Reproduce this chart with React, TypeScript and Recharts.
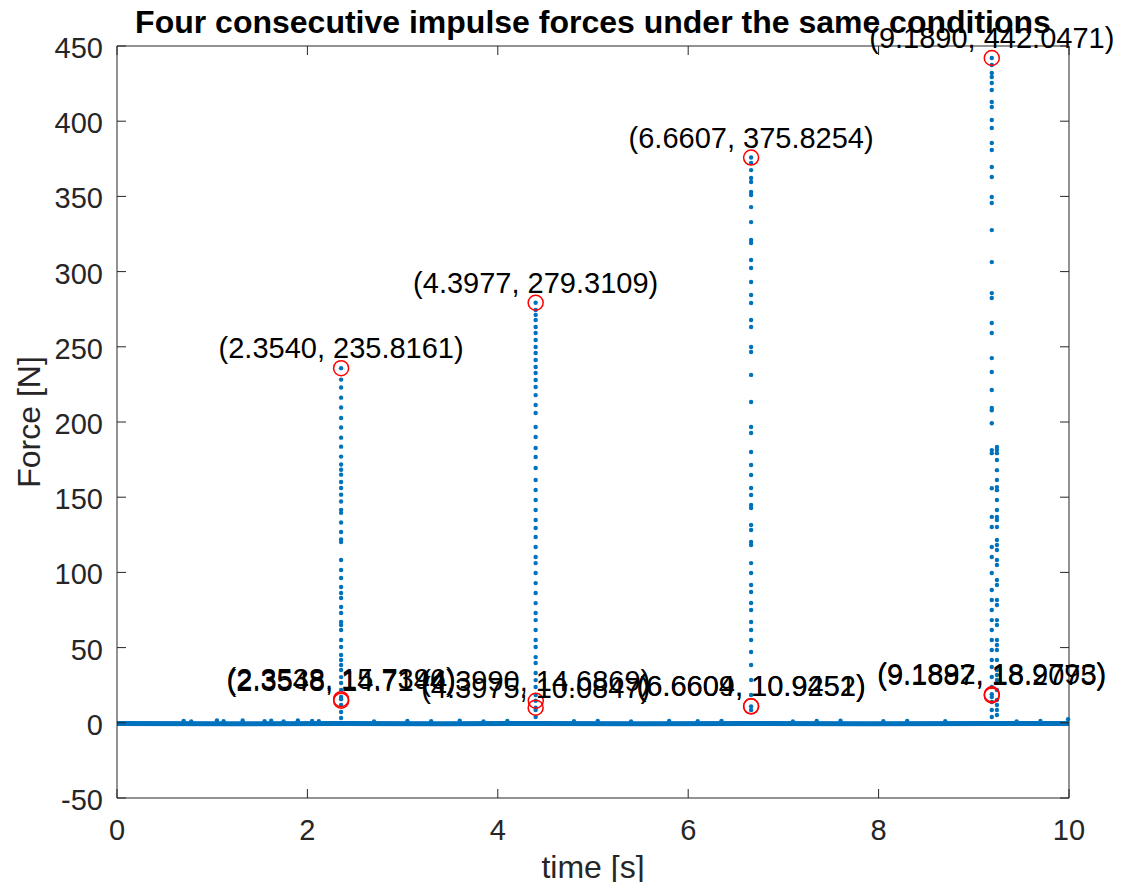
import {
  ComposedChart,
  Line,
  Scatter,
  XAxis,
  YAxis,
} from "recharts";

const BLUE = "#0072BD";
const AXIS = "#262626";
const FONT = "'Liberation Sans', Arial, Helvetica, sans-serif";

// plot box in page pixels
const W = 1121;
const H = 890;
const PLOT_LEFT = 117;
const PLOT_RIGHT = 1069;
const PLOT_TOP = 46;
const PLOT_BOTTOM = 798;

const xTicks = [0, 2, 4, 6, 8, 10];
const yTicks = [-50, 0, 50, 100, 150, 200, 250, 300, 350, 400, 450];

// flat signal between impacts
const baselineTime = [0, 1.2, 2.35, 3.4, 4.4, 5.5, 6.66, 7.9, 9.19, 10];
const baselineForce = [-0.4, -0.6, -0.5, -0.6, -0.5, -0.6, -0.5, -0.6, -0.5, -0.4];

// small bumps sitting on the baseline
const noiseTime = [0.7, 0.78, 1.05, 1.12, 1.32, 1.55, 1.62, 1.75, 1.9, 2.05, 2.12, 2.7, 3.05, 3.3, 3.6, 3.85, 4.1, 4.8, 5.05, 5.4, 5.8, 6.1, 6.35, 7.1, 7.35, 7.6, 8.05, 8.3, 8.7, 9.45, 9.7, 9.99];
const noiseForce = [1.3, 0.9, 1.5, 1.0, 1.6, 1.1, 1.4, 0.9, 1.5, 1.2, 1.0, 0.9, 1.3, 1.1, 1.4, 0.9, 1.2, 1.0, 1.3, 0.9, 1.2, 1.1, 1.3, 0.9, 1.2, 1.4, 1.0, 1.2, 1.1, 0.9, 1.2, 2.4];

// impulse columns
const spikeTimes = [2.354, 4.3977, 6.6607, 9.189, 9.243];
const spike1Force = [235.8161, 228.2, 222.9, 216.2, 209.6, 202.7, 196.3, 189.6, 183.6, 177.0, 171.7, 168.3, 165.0, 160.1, 156.1, 151.7, 147.1, 141.6, 139.6, 133.2, 126.9, 121.9, 120.2, 108.2, 101.6, 96.3, 90.3, 86.3, 83.0, 77.0, 73.0, 67.0, 65.0, 61.7, 55.1, 50.4, 45.1, 41.8, 38.4, 35.1, 30.4, 26.5, 21.8, 17.2, 15.7396, 11.8, 7.2, 3.2];
const spike2Force = [279.3109, 274.5, 271.2, 267.8, 263.2, 259.2, 254.5, 249.9, 245.9, 241.2, 236.6, 232.6, 227.9, 223.3, 217.9, 211.3, 206.0, 196.7, 190.0, 182.7, 176.7, 169.4, 161.4, 154.8, 148.1, 141.5, 134.8, 129.5, 123.5, 116.9, 110.2, 106.2, 99.6, 92.9, 86.3, 79.6, 73.0, 68.3, 61.7, 55.1, 50.4, 43.7, 39.8, 33.1, 28.4, 23.8, 18.5, 14.6869, 10.0847, 8.5, 3.9];
const spike3Force = [375.8254, 372.2, 367.5, 362.2, 359.6, 352.9, 350.9, 342.9, 332.9, 321.0, 319.0, 307.7, 302.4, 293.1, 284.4, 279.1, 267.8, 263.2, 249.9, 246.5, 231.3, 213.3, 196.7, 192.7, 180.1, 171.4, 164.8, 156.1, 151.5, 144.8, 142.8, 131.5, 128.2, 120.2, 118.2, 106.2, 99.6, 91.6, 87.0, 79.7, 75.0, 67.0, 61.7, 55.1, 47.1, 38.4, 28.5, 18.5, 10.9452, 8.5];
const spike4Force = [442.0471, 437.4, 432.0, 429.4, 425.4, 420.7, 412.8, 409.4, 400.8, 395.5, 385.5, 380.9, 369.5, 362.9, 349.6, 345.6, 327.6, 306.3, 285.7, 282.4, 265.8, 259.2, 242.5, 233.2, 221.3, 209.3, 207.8, 199.2, 181.3, 179.3, 156.0, 136.9, 130.2, 116.9, 110.2, 99.6, 88.3, 81.6, 75.0, 68.3, 61.7, 55.1, 48.4, 41.8, 37.1, 30.5, 23.8, 18.9793, 17.2, 13.8, 8.5, 3.9];
const spike5Force = [183.4, 181.4, 179.3, 174.7, 168.0, 161.4, 156.7, 154.7, 148.1, 141.5, 136.8, 134.8, 130.2, 121.5, 118.2, 114.9, 108.2, 104.9, 94.9, 91.6, 81.6, 78.3, 68.3, 65.0, 55.1, 51.7, 48.4, 41.8, 35.1, 31.8, 28.5, 21.8, 15.2, 11.8, 8.5, 5.2];

// data tips
const tipTime = [2.354, 2.3538, 2.3548, 4.3977, 4.399, 4.3975, 6.6607, 6.6604, 6.6609, 9.189, 9.1887, 9.1892];
const tipForce = [235.8161, 15.7396, 14.7144, 279.3109, 14.6869, 10.0847, 375.8254, 10.9452, 10.9251, 442.0471, 18.2075, 18.9793];

const baselineData = baselineTime.map((t, i) => ({ t, f: baselineForce[i] }));
const noiseData = noiseTime.map((t, i) => ({ t, f: noiseForce[i] }));
const spikeForces = [spike1Force, spike2Force, spike3Force, spike4Force, spike5Force];
const spikeData = spikeForces.flatMap((arr, i) =>
  arr.map((f) => ({ t: spikeTimes[i], f }))
);
const tipData = tipTime.map((t, i) => ({
  t,
  f: tipForce[i],
  label: `(${t.toFixed(4)}, ${tipForce[i].toFixed(4)})`,
}));

const LeftTick = (props: any) => {
  const { x, y, payload } = props;
  return (
    <g>
      <line x1={x} y1={y} x2={x + 9} y2={y} stroke={AXIS} />
      <text
        x={x - 14}
        y={y + 12}
        textAnchor="end"
        fontSize={29}
        fill={AXIS}
        fontFamily={FONT}
      >
        {payload.value}
      </text>
    </g>
  );
};

const BottomTick = (props: any) => {
  const { x, y, payload } = props;
  return (
    <g>
      <line x1={x} y1={y} x2={x} y2={y - 9} stroke={AXIS} />
      <text
        x={x}
        y={y + 42}
        textAnchor="middle"
        fontSize={29}
        fill={AXIS}
        fontFamily={FONT}
      >
        {payload.value}
      </text>
    </g>
  );
};

const RightTick = (props: any) => {
  const { x, y } = props;
  return <line x1={x} y1={y} x2={x - 9} y2={y} stroke={AXIS} />;
};

const TopTick = (props: any) => {
  const { x, y } = props;
  return <line x1={x} y1={y} x2={x} y2={y + 9} stroke={AXIS} />;
};

const Dot = (props: any) => (
  <circle cx={props.cx} cy={props.cy} r={2.2} fill={BLUE} />
);

const Tip = (props: any) => (
  <g>
    <circle
      cx={props.cx}
      cy={props.cy}
      r={7.5}
      fill="none"
      stroke="#FF0000"
      strokeWidth={1.5}
    />
    <text
      x={props.cx}
      y={props.cy - 10}
      textAnchor="middle"
      fontSize={29}
      fill="#000"
      fontFamily={FONT}
    >
      {props.payload.label}
    </text>
  </g>
);

export default function App() {
  return (
    <div
      style={{
        position: "relative",
        width: W,
        height: H,
        margin: -8,
        background: "#fff",
      }}
    >
      <ComposedChart
        width={W}
        height={H}
        margin={{
          top: PLOT_TOP - 10,
          right: W - PLOT_RIGHT - 10,
          bottom: H - PLOT_BOTTOM - 40,
          left: PLOT_LEFT - 60,
        }}
      >
        <XAxis
          xAxisId="b"
          type="number"
          dataKey="t"
          domain={[0, 10]}
          ticks={xTicks}
          height={40}
          tickSize={0}
          tickMargin={0}
          tickLine={false}
          axisLine={{ stroke: AXIS }}
          tick={<BottomTick />}
        />
        <XAxis
          xAxisId="top"
          orientation="top"
          type="number"
          dataKey="t"
          domain={[0, 10]}
          ticks={xTicks}
          height={10}
          tickSize={0}
          tickMargin={0}
          tickLine={false}
          axisLine={{ stroke: AXIS }}
          tick={<TopTick />}
        />
        <YAxis
          yAxisId="l"
          type="number"
          dataKey="f"
          domain={[-50, 450]}
          ticks={yTicks}
          width={60}
          tickSize={0}
          tickMargin={0}
          tickLine={false}
          axisLine={{ stroke: AXIS }}
          tick={<LeftTick />}
        />
        <YAxis
          yAxisId="r"
          orientation="right"
          type="number"
          dataKey="f"
          domain={[-50, 450]}
          ticks={yTicks}
          width={10}
          tickSize={0}
          tickMargin={0}
          tickLine={false}
          axisLine={{ stroke: AXIS }}
          tick={<RightTick />}
        />
        <Scatter
          xAxisId="top"
          yAxisId="r"
          data={tipData}
          shape={() => <g />}
          isAnimationActive={false}
        />
        <Line
          xAxisId="b"
          yAxisId="l"
          data={baselineData}
          dataKey="f"
          type="linear"
          stroke={BLUE}
          strokeWidth={5}
          dot={false}
          isAnimationActive={false}
        />
        <Scatter
          xAxisId="b"
          yAxisId="l"
          data={noiseData}
          shape={Dot}
          isAnimationActive={false}
        />
        <Scatter
          xAxisId="b"
          yAxisId="l"
          data={spikeData}
          shape={Dot}
          isAnimationActive={false}
        />
        <Scatter
          xAxisId="b"
          yAxisId="l"
          data={tipData}
          shape={Tip}
          isAnimationActive={false}
        />
      </ComposedChart>
      <svg
        width={W}
        height={H}
        style={{ position: "absolute", left: 0, top: 0, pointerEvents: "none" }}
      >
        <text
          x={(PLOT_LEFT + PLOT_RIGHT) / 2}
          y={33}
          textAnchor="middle"
          fontSize={32}
          fontWeight="bold"
          fill="#000"
          fontFamily={FONT}
        >
          Four consecutive impulse forces under the same conditions
        </text>
        <text
          x={(PLOT_LEFT + PLOT_RIGHT) / 2}
          y={878}
          textAnchor="middle"
          fontSize={32}
          fill={AXIS}
          fontFamily={FONT}
        >
          time [s]
        </text>
        <text
          transform={`translate(40, ${(PLOT_TOP + PLOT_BOTTOM) / 2}) rotate(-90)`}
          textAnchor="middle"
          fontSize={32}
          fill={AXIS}
          fontFamily={FONT}
        >
          Force [N]
        </text>
      </svg>
    </div>
  );
}
